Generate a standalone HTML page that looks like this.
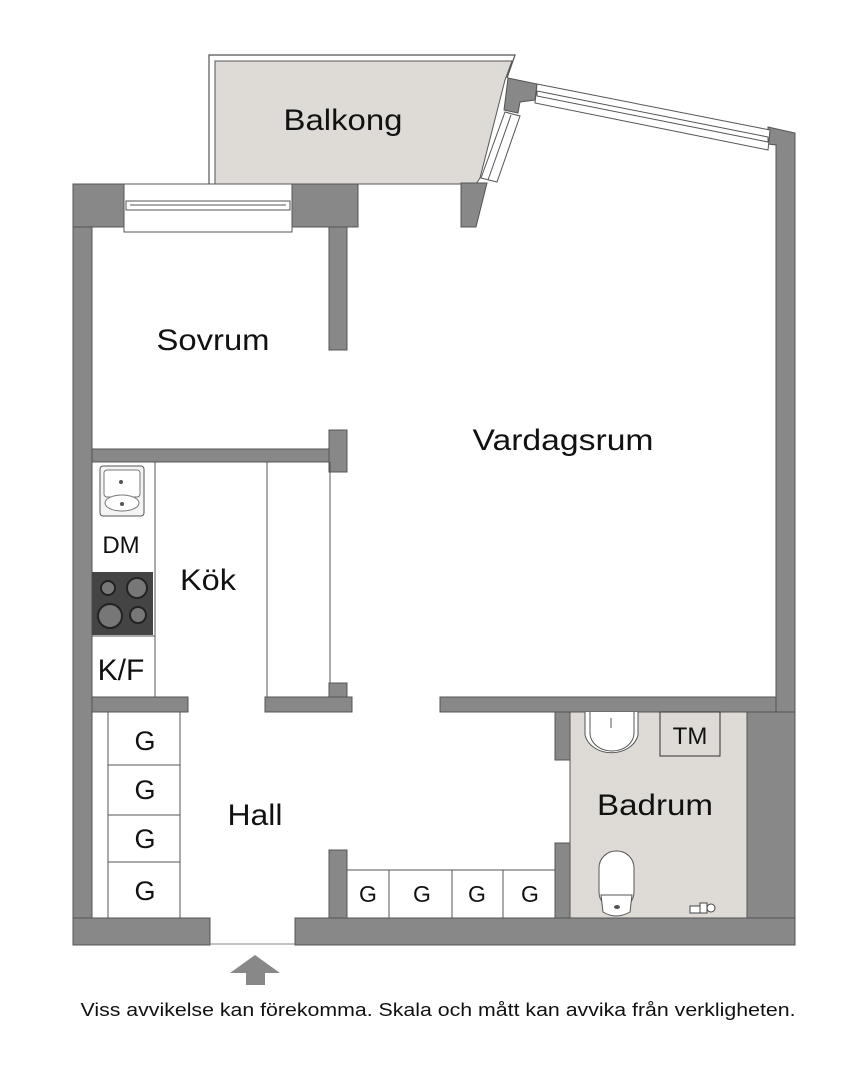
<!DOCTYPE html>
<html><head><meta charset="utf-8"><style>
html,body{margin:0;padding:0;background:#fff;width:860px;height:1080px;overflow:hidden}
svg{display:block}
text{font-family:"Liberation Sans",Arial,sans-serif;fill:#111}
</style></head><body>
<svg width="860" height="1080" viewBox="0 0 860 1080" xmlns="http://www.w3.org/2000/svg">
<!-- balcony -->
<path d="M209,184 L209,55 L515,55 L507,78" fill="none" stroke="#555" stroke-width="1.2"/>
<polygon points="215,61 512,61 505,80 480,178 476,184 215,184" fill="#dedad6" stroke="#555" stroke-width="1"/>
<text x="343" y="130" font-size="30" text-anchor="middle" textLength="119" lengthAdjust="spacingAndGlyphs">Balkong</text>
<g fill="#888" stroke="#555" stroke-width="1">
<rect x="73" y="184" width="19" height="761"/>
<rect x="73" y="184" width="51" height="43"/>
<rect x="292" y="184" width="66" height="43"/>
<rect x="329" y="227" width="18" height="123"/>
<polygon points="508,78 537,84 535,100 520,102 518,113 504,110"/>
<polygon points="461,183 487,183 476,227 461,227"/>
<polygon points="768,127 795,133 795,945 776,945 776,145 768,144"/>
<rect x="92" y="449" width="255" height="13"/>
<rect x="329" y="430" width="18" height="42"/>
<rect x="329" y="683" width="18" height="14"/>
<rect x="92" y="697" width="96" height="15"/>
<rect x="265" y="697" width="87" height="15"/>
<rect x="440" y="697" width="336" height="15"/>
<rect x="555" y="712" width="15" height="48"/>
<rect x="555" y="843" width="15" height="75"/>
<rect x="747" y="712" width="48" height="233"/>
<rect x="329" y="850" width="18" height="68"/>
<rect x="73" y="918" width="137" height="27"/>
<rect x="295" y="918" width="500" height="27"/>
</g>
<g fill="#fff" stroke="#555" stroke-width="1">
<rect x="124" y="184" width="168" height="48"/>
<rect x="126" y="201" width="164" height="9"/>
<line x1="130" y1="205" x2="286" y2="205"/>
<polygon points="537,84 770,130 768,150 535,103"/>
<polygon points="537,91 768,137 768,142 537,96"/>
<polygon points="505,112 520,116 497,182 481,178"/>
<line x1="511" y1="115" x2="488" y2="180"/>
</g>
<rect x="570" y="712" width="177" height="206" fill="#dedad6" stroke="#555" stroke-width="1"/>
<path d="M585,712 L585,735 A27,22 0 0 0 638,735 L638,712" fill="#fff" stroke="#555"/>
<path d="M590,712 L590,733 A22,18 0 0 0 634,733 L634,712" fill="none" stroke="#555"/>
<line x1="611" y1="718" x2="611" y2="728" stroke="#555"/>
<rect x="660" y="712" width="60" height="44" fill="none" stroke="#333"/>
<text x="690" y="744" font-size="24" text-anchor="middle">TM</text>
<text x="655" y="815" font-size="30" text-anchor="middle" textLength="116" lengthAdjust="spacingAndGlyphs">Badrum</text>
<rect x="599" y="851" width="35" height="58" rx="17" fill="#fff" stroke="#555"/>
<path d="M601,895 L632,895 L630,912 Q616,920 603,912 Z" fill="#fff" stroke="#555"/>
<ellipse cx="617" cy="907" rx="3" ry="2" fill="#555"/>
<g fill="#fff" stroke="#444"><rect x="690" y="906" width="10" height="7"/><rect x="700" y="903" width="7" height="10"/><circle cx="711" cy="908" r="4"/></g>
<g fill="none" stroke="#555" stroke-width="1">
<line x1="155" y1="462" x2="155" y2="697"/>
<line x1="267" y1="462" x2="267" y2="697"/>
<line x1="330" y1="462" x2="330" y2="683"/>
<line x1="92" y1="636" x2="155" y2="636"/>
</g>
<rect x="100" y="466" width="44" height="50" rx="3" fill="#f4f4f4" stroke="#555"/>
<rect x="104" y="470" width="36" height="27" rx="3" fill="#fff" stroke="#777"/>
<ellipse cx="122" cy="503" rx="17" ry="8" fill="#fff" stroke="#777"/>
<circle cx="121" cy="482" r="2" fill="#555"/><circle cx="122" cy="504" r="2" fill="#555"/>
<text x="121" y="553" font-size="24" text-anchor="middle">DM</text>
<rect x="92" y="572" width="61" height="63" fill="#444"/>
<g fill="#777" stroke="#222" stroke-width="2">
<circle cx="108" cy="588" r="7"/><circle cx="137" cy="588" r="10"/>
<circle cx="110" cy="616" r="12"/><circle cx="138" cy="615" r="8"/>
</g>
<text x="121" y="680" font-size="30" text-anchor="middle">K/F</text>
<text x="208" y="590" font-size="30" text-anchor="middle" textLength="56" lengthAdjust="spacingAndGlyphs">Kök</text>
<text x="213" y="350" font-size="30" text-anchor="middle" textLength="113" lengthAdjust="spacingAndGlyphs">Sovrum</text>
<text x="563" y="450" font-size="30" text-anchor="middle" textLength="181" lengthAdjust="spacingAndGlyphs">Vardagsrum</text>
<text x="255" y="825" font-size="30" text-anchor="middle" textLength="55" lengthAdjust="spacingAndGlyphs">Hall</text>
<g fill="#fff" stroke="#555" stroke-width="1">
<rect x="108" y="712" width="72" height="53"/>
<rect x="108" y="765" width="72" height="50"/>
<rect x="108" y="815" width="72" height="47"/>
<rect x="108" y="862" width="72" height="56"/>
<rect x="347" y="870" width="42" height="48"/>
<rect x="389" y="870" width="63" height="48"/>
<rect x="452" y="870" width="51" height="48"/>
<rect x="503" y="870" width="52" height="48"/>
</g>
<g font-size="27" text-anchor="middle">
<text x="145" y="750">G</text><text x="145" y="799">G</text><text x="145" y="848">G</text><text x="145" y="900">G</text>
</g>
<g font-size="23" text-anchor="middle">
<text x="368" y="902">G</text><text x="422" y="902">G</text><text x="477" y="902">G</text><text x="530" y="902">G</text>
</g>
<line x1="210" y1="944" x2="295" y2="944" stroke="#888"/>
<polygon points="255,955 280,973 265,973 265,985 246,985 246,973 230,973" fill="#888"/>
<text x="438" y="1016" font-size="18" text-anchor="middle" textLength="715" lengthAdjust="spacingAndGlyphs">Viss avvikelse kan förekomma. Skala och mått kan avvika från verkligheten.</text>
</svg>
</body></html>
